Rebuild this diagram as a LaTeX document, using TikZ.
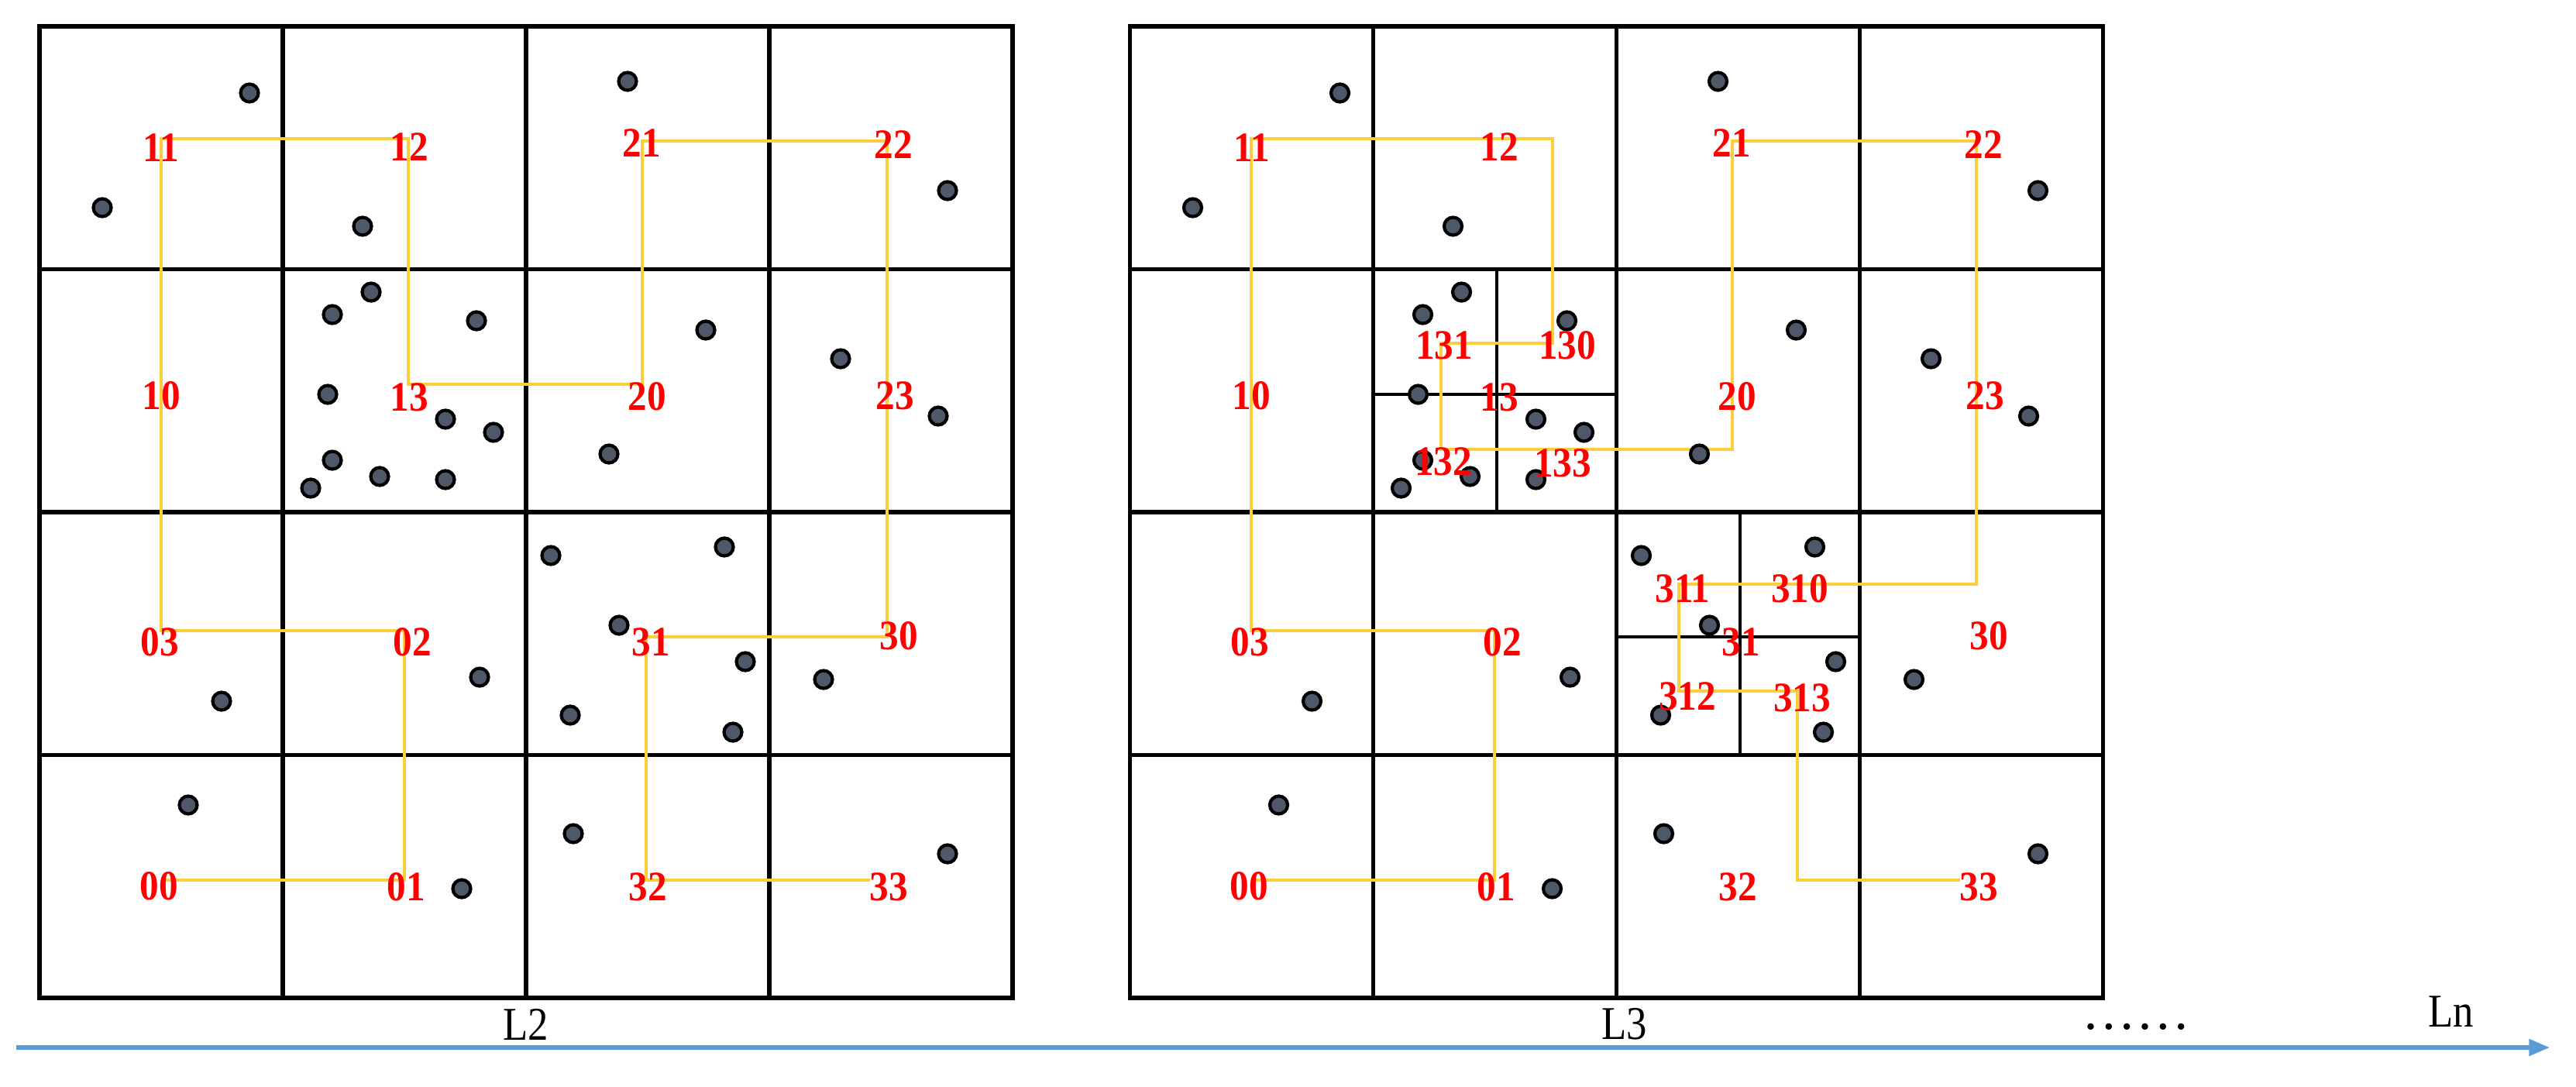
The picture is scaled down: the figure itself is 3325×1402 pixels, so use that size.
\documentclass[tikz,border=0pt]{standalone}
\usepackage{fontspec}
\setmainfont{Liberation Serif}
\usetikzlibrary{arrows.meta}
\definecolor{hy}{RGB}{252,206,60}
\definecolor{dotfill}{RGB}{78,88,104}
\definecolor{arrowblue}{RGB}{91,155,213}
\newcommand{\hlab}[1]{\scalebox{1}[1.1]{#1}}
\newcommand{\vlab}[1]{\scalebox{1}[1.15]{#1}}
\tikzset{
  gridline/.style={line width=1.45pt, draw=black},
  subline/.style={line width=0.9pt, draw=black},
  hil/.style={draw=hy, line width=1.05pt, line join=miter},
  lbl/.style={text=red, font=\bfseries\fontsize{14}{15}\selectfont, inner sep=0pt},
  lvl/.style={font=\fontsize{15}{16}\selectfont, inner sep=0pt},
  pt/.style={fill=dotfill, draw=black, line width=1.2pt},
}
\begin{document}
\begin{tikzpicture}[x=0.01cm,y=-0.01cm]
\useasboundingbox (0,0) rectangle (3325,1402);
% grids
\foreach \ox in {51,1458.5} {
  \foreach \k in {1,2,3} {
    \draw[gridline] ({\ox+\k*314},34) -- ({\ox+\k*314},1288);
    \draw[gridline] (\ox,{34+\k*313.5}) -- ({\ox+1256},{34+\k*313.5});
  }
  \draw[gridline] (\ox,34) rectangle ({\ox+1256},1288);
  \draw[line width=1.7pt] (\ox,1288) -- ({\ox+1256},1288);
}
% sub-grids in L3
\draw[subline] (1932,347.5) -- (1932,661);
\draw[subline] (1772.5,509) -- (2086.5,509);
\draw[subline] (2246,661) -- (2246,974.5);
\draw[subline] (2086.5,822) -- (2400.5,822);
% path coordinates L2
\coordinate (pa00) at (212,1136);
\coordinate (pa01) at (522,1136);
\coordinate (pa02) at (522,814);
\coordinate (pa03) at (208,814);
\coordinate (pa11) at (208,179);
\coordinate (pa12) at (527,179);
\coordinate (pa13) at (527,496);
\coordinate (pa20) at (829,496);
\coordinate (pa21) at (829,182);
\coordinate (pa22) at (1145,182);
\coordinate (pa30) at (1145,822);
\coordinate (pa31) at (834,822);
\coordinate (pa32) at (834,1136);
\coordinate (pa33) at (1123,1136);
\draw[hil] (pa00) -- (pa01) -- (pa02) -- (pa03) -- (pa11) -- (pa12) -- (pa13) -- (pa20) -- (pa21) -- (pa22) -- (pa30) -- (pa31) -- (pa32) -- (pa33);
% path coordinates L3
\coordinate (pb00) at (1619,1136);
\coordinate (pb01) at (1929,1136);
\coordinate (pb02) at (1929,814);
\coordinate (pb03) at (1615,814);
\coordinate (pb11) at (1615,179);
\coordinate (pb12) at (2004,179);
\coordinate (pb130) at (2004,443);
\coordinate (pb131) at (1860,443);
\coordinate (pb132) at (1860,580);
\coordinate (pb20) at (2236,580);
\coordinate (pb21) at (2236,182);
\coordinate (pb22) at (2551,182);
\coordinate (pb310) at (2551,754);
\coordinate (pb311) at (2167,754);
\coordinate (pb312) at (2167,892);
\coordinate (pb313) at (2320,892);
\coordinate (pb3c) at (2320,1136);
\coordinate (pb33) at (2530,1136);
\draw[hil] (pb00) -- (pb01) -- (pb02) -- (pb03) -- (pb11) -- (pb12) -- (pb130) -- (pb131) -- (pb132) -- (pb20) -- (pb21) -- (pb22) -- (pb310) -- (pb311) -- (pb312) -- (pb313) -- (pb3c) -- (pb33);
% dots
\foreach \ox in {0,1407.5} {
  \foreach \px/\py in {322/120, 132/268, 468/292, 810/105, 479/377, 429/406, 615/414, 423/509,
      575/541, 637/558, 429/594, 490/615, 575/619, 401/630, 911/426, 786/586, 1085/463,
      1223/246, 1211/537, 711/717, 935/706, 799/807, 962/854, 619/874, 1063/877, 736/923,
      946/945, 286/905, 243/1039, 596/1147, 740/1076, 1223/1102} {
    \draw[pt] ({\px+\ox},\py) circle[radius=11.5];
  }
}
% labels
\foreach \ox/\pf in {0/a,1407.5/b} {
  \foreach \t/\px/\py in {11/208/191, 12/528/190, 21/828/185, 22/1153/187,
      10/208/511, 13/528/513, 20/835/512, 23/1155/511,
      03/206/829, 02/532/829, 31/840/829, 30/1160/821,
      00/205/1144, 01/524/1145, 32/836/1145, 33/1147/1145} {
    \node[lbl] (\pf\t) at ({\px+\ox},\py) {\hlab{\t}};
  }
}
\node[lbl] (b131) at (1864,446) {\hlab{131}};
\node[lbl] (b130) at (2023,446) {\hlab{130}};
\node[lbl] (b132) at (1863,596) {\hlab{132}};
\node[lbl] (b133) at (2017,598) {\hlab{133}};
\node[lbl] (b311) at (2172,760) {\hlab{311}};
\node[lbl] (b310) at (2323,760) {\hlab{310}};
\node[lbl] (b312) at (2178,899) {\hlab{312}};
\node[lbl] (b313) at (2326,901) {\hlab{313}};
% level labels
\node[lvl] (lt2) at (679,1322) {\vlab{L2}};
\node[lvl] (lt3) at (2097,1322) {\vlab{L3}};
\node[lvl, anchor=base, font=\fontsize{19.8}{20}\selectfont] (ldots) at (2757,1328) {……};
\node[lvl] (ltn) at (3164,1306) {\vlab{Ln}};
% axis arrow
\coordinate (axs) at (21,1352);
\coordinate (axe) at (3291,1352);
\draw[draw=arrowblue, line width=1.5pt, -{Triangle[length=7.6pt,width=6pt]}] (axs) -- (axe);
\end{tikzpicture}
\end{document}
